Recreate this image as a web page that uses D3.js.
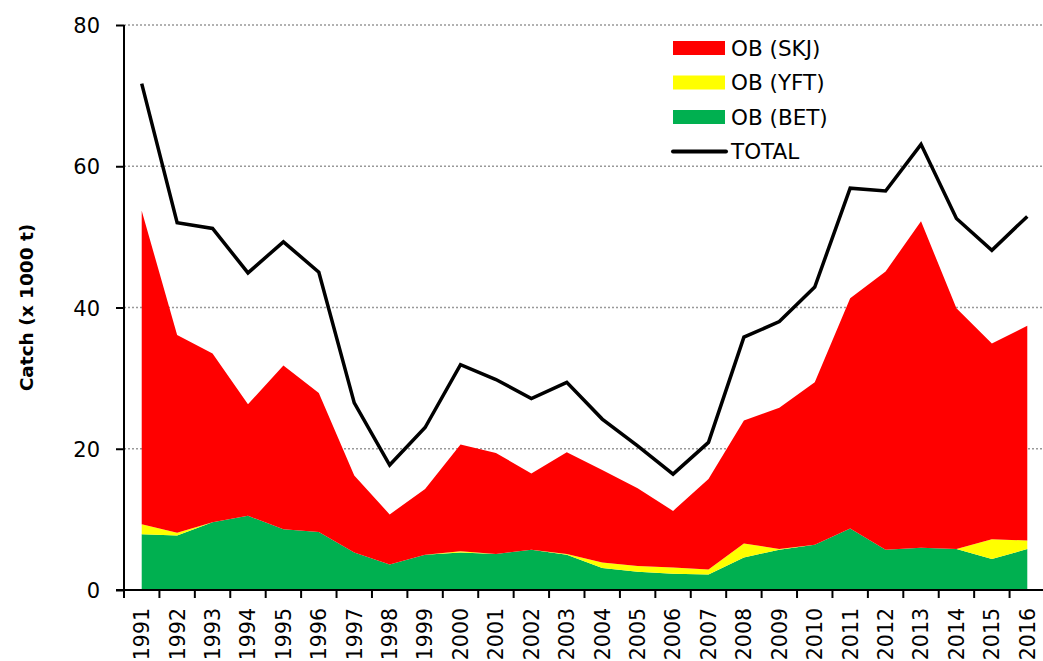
<!DOCTYPE html>
<html>
<head>
<meta charset="utf-8">
<script src="https://cdn.jsdelivr.net/npm/d3@7"></script>
<style>
  body { margin: 0; background: #fff; }
  text { font-family: "DejaVu Sans", sans-serif; fill: #000; }
</style>
</head>
<body>
<svg width="1043" height="661"></svg>
<script>
// catch by species, x 1000 t
var years = ["1991","1992","1993","1994","1995","1996","1997","1998","1999","2000","2001","2002","2003",
             "2004","2005","2006","2007","2008","2009","2010","2011","2012","2013","2014","2015","2016"];
var bet = [7.9,7.7,9.6,10.5,8.6,8.2,5.3,3.6,5.0,5.3,5.1,5.7,5.0,3.1,2.6,2.3,2.2,4.6,5.7,6.4,8.7,5.7,6.0,5.8,4.4,5.8];
var yft = [1.4,0.4,0,0,0,0,0,0,0,0.2,0,0,0.1,0.8,0.8,0.9,0.7,2.0,0.1,0,0,0,0,0,2.8,1.2];
var skj = [44.4,28.0,23.9,15.8,23.2,19.7,10.9,7.1,9.3,15.1,14.3,10.8,14.4,13.1,11.0,8.0,12.8,17.4,20.0,23.0,32.6,39.4,46.2,34.1,27.7,30.4];
var total = [71.7,52.0,51.2,44.9,49.3,45.0,26.5,17.7,23.0,31.9,29.8,27.1,29.4,24.2,20.4,16.4,20.9,35.8,38.0,42.9,56.9,56.5,63.1,52.6,48.1,52.9];
var yTicks = [0, 20, 40, 60, 80];

var svg = d3.select("svg"),
    margin = {top: 25, right: -2, bottom: 71, left: 124},
    width = +svg.attr("width") - margin.left - margin.right,
    height = +svg.attr("height") - margin.top - margin.bottom;

var x = d3.scaleBand().domain(years).range([0, width]).padding(0),
    y = d3.scaleLinear().domain([0, 80]).range([height, 0]);

var g = svg.append("g")
    .attr("transform", "translate(" + margin.left + "," + margin.top + ")");

// dotted grid
g.selectAll(".grid")
    .data(yTicks.filter(function (d) { return d > 0; }))
    .enter().append("line")
    .attr("x1", 0)
    .attr("x2", width)
    .attr("y1", function (d) { return y(d); })
    .attr("y2", function (d) { return y(d); })
    .attr("stroke", "#999")
    .attr("stroke-width", 1.5)
    .attr("stroke-dasharray", "2,2");

var rows = years.map(function (yr, i) {
    return {year: yr, bet: bet[i], yft: yft[i], skj: skj[i], total: total[i]};
});

var colors = {bet: "#00b050", yft: "#ffff00", skj: "#ff0000"};
var series = d3.stack().keys(["bet", "yft", "skj"])(rows);

var cx = function (d) { return x(d.data ? d.data.year : d.year) + x.bandwidth() / 2; };

var area = d3.area()
    .x(cx)
    .y0(function (d) { return y(d[0]); })
    .y1(function (d) { return y(d[1]); });

g.selectAll(".layer")
    .data(series)
    .enter().append("path")
    .attr("class", "layer")
    .attr("fill", function (d) { return colors[d.key]; })
    .attr("d", area);

var line = d3.line()
    .x(cx)
    .y(function (d) { return y(d.total); });

g.append("path")
    .datum(rows)
    .attr("fill", "none")
    .attr("stroke", "#000")
    .attr("stroke-width", 3.5)
    .attr("d", line);

// axes
var yAxis = g.append("g")
    .call(d3.axisLeft(y).tickValues(yTicks).tickSize(8).tickPadding(16));
yAxis.select(".domain").attr("stroke-width", 2).attr("d", "M0," + height + "V0");
yAxis.selectAll(".tick line").attr("stroke-width", 2);
yAxis.selectAll("text").style("font-size", "21px").attr("dy", "0.36em");

var xAxis = g.append("g")
    .attr("transform", "translate(0," + height + ")")
    .call(d3.axisBottom(x).tickSize(0).tickPadding(0));
xAxis.select(".domain").attr("stroke-width", 2).attr("d", "M-8,0H" + width);
xAxis.selectAll("text")
    .style("font-size", "20.5px")
    .attr("text-anchor", "end")
    .attr("transform", "rotate(-90)")
    .attr("x", -18)
    .attr("y", 0)
    .attr("dy", "0.36em");

// ticks on category boundaries
xAxis.selectAll(".bound")
    .data(years)
    .enter().append("line")
    .attr("x1", function (d) { return x(d); })
    .attr("x2", function (d) { return x(d); })
    .attr("y1", 0)
    .attr("y2", 8)
    .attr("stroke", "#000")
    .attr("stroke-width", 2);

g.append("text")
    .attr("transform", "translate(-91," + (height / 2) + ") rotate(-90)")
    .attr("text-anchor", "middle")
    .style("font-size", "18.5px")
    .style("font-weight", "bold")
    .text("Catch (x 1000 t)");

// legend
var legendItems = [
    {name: "OB (SKJ)", key: "skj"},
    {name: "OB (YFT)", key: "yft"},
    {name: "OB (BET)", key: "bet"},
    {name: "TOTAL", key: "total"}
];
var legend = svg.append("g").attr("transform", "translate(673,48)");
var item = legend.selectAll(".item")
    .data(legendItems)
    .enter().append("g")
    .attr("transform", function (d, i) { return "translate(0," + (i * 34.5) + ")"; });
item.filter(function (d) { return d.key !== "total"; })
    .append("rect")
    .attr("x", 0).attr("y", -7).attr("width", 52).attr("height", 14)
    .attr("fill", function (d) { return colors[d.key]; });
item.filter(function (d) { return d.key === "total"; })
    .append("line")
    .attr("x1", 0).attr("x2", 53).attr("y1", 0).attr("y2", 0)
    .attr("stroke", "#000").attr("stroke-width", 4).attr("stroke-linecap", "round");
item.append("text")
    .attr("x", 58)
    .attr("dy", "0.36em")
    .style("font-size", "21.5px")
    .text(function (d) { return d.name; });
</script>
</body>
</html>
